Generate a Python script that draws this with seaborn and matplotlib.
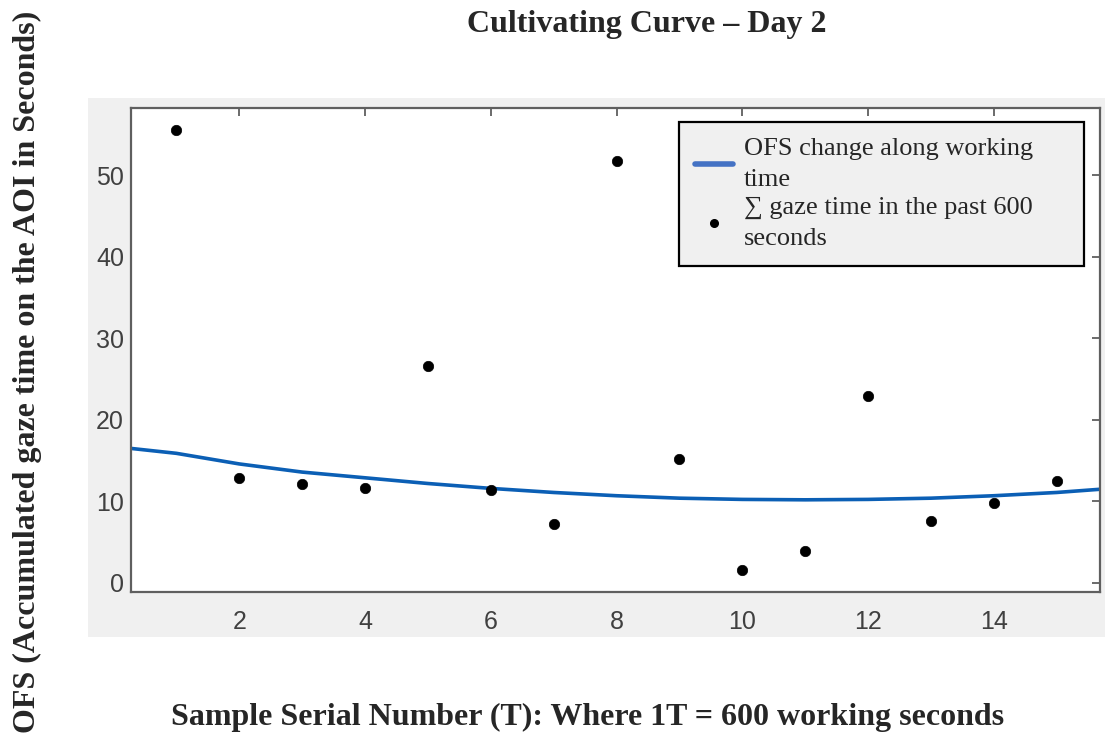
import numpy as np
import pandas as pd
import matplotlib
matplotlib.use("Agg")
import matplotlib.pyplot as plt
from matplotlib.lines import Line2D
from matplotlib.patches import Rectangle
import seaborn as sns

# sample points (T) and accumulated gaze time per sample
sample_t = [1, 2, 3, 4, 5, 6, 7, 8, 9, 10, 11, 12, 13, 14, 15]
gaze_sec = [55.5, 12.9, 12.1, 11.6, 26.6, 11.4, 7.2, 51.7, 15.2, 1.6, 3.9, 22.9, 7.6, 9.8, 12.5]

# fitted OFS curve
curve_t = [0.28, 1, 2, 3, 4, 5, 6, 7, 8, 9, 10, 11, 12, 13, 14, 15, 15.7]
curve_ofs = [16.5, 15.9, 14.6, 13.6, 12.9, 12.2, 11.6, 11.1, 10.7, 10.4, 10.25, 10.2, 10.25, 10.4, 10.7, 11.1, 11.5]

xticks = [2, 4, 6, 8, 10, 12, 14]
yticks = [0, 10, 20, 30, 40, 50]

pts = pd.DataFrame({"T": sample_t, "gaze": gaze_sec})
fit = pd.DataFrame({"T": curve_t, "OFS": curve_ofs})

sns.set_style("white")
plt.rcParams["font.family"] = ["Liberation Sans", "DejaVu Sans"]

serif = ["Liberation Serif", "DejaVu Serif"]
axis_gray = "#5f5f5f"

fig = plt.figure(figsize=(11.05, 7.35), dpi=100)

# grey figure panel behind the axes (matlab style)
fig.patches.append(Rectangle((0.0796, 0.1333), 0.9204, 0.7334, transform=fig.transFigure,
                             facecolor="#f0f0f0", edgecolor="none", zorder=0))

ax = fig.add_axes([0.1186, 0.1946, 0.877, 0.658])
ax.set_zorder(2)
ax.set_facecolor("white")

sns.lineplot(data=fit, x="T", y="OFS", color="#0b5fb5", linewidth=2.6, ax=ax, zorder=2)
sns.scatterplot(data=pts, x="T", y="gaze", color="black", s=56, edgecolor="black",
                linewidth=0.5, ax=ax, zorder=3)

ax.set_xlim(0.28, 15.69)
ax.set_ylim(-1.1, 58.2)
ax.set_xticks(xticks)
ax.set_yticks(yticks)
ax.set_xlabel("")
ax.set_ylabel("")
ax.tick_params(direction="in", length=6, width=1.3, color=axis_gray, labelcolor="#404040",
               labelsize=18, top=True, right=True)
ax.tick_params(axis="x", pad=13)
ax.tick_params(axis="y", pad=5)
for sp in ax.spines.values():
    sp.set_visible(True)
    sp.set_color(axis_gray)
    sp.set_linewidth(1.6)

handles = [
    Line2D([0], [0], color="#4472c4", linewidth=4),
    Line2D([0], [0], color="black", marker="o", linestyle="none", markersize=5.5),
]
labels = ["OFS change along working\ntime", "\u2211 gaze time in the past 600\nseconds"]
leg = ax.legend(handles, labels, loc="upper left", bbox_to_anchor=(0.5655, 0.6736, 0.418, 0.2975),
                mode="expand", borderaxespad=0, frameon=True, fancybox=False, framealpha=1,
                facecolor="#f0f0f0", edgecolor="black", handlelength=1.45,
                handletextpad=0.4, labelspacing=0.2, borderpad=0.6,
                prop={"family": serif, "size": 19})
leg.get_frame().set_linewidth(1.6)
for t in leg.get_texts():
    t.set_linespacing(1.55)

fig.text(0.5855, 0.966, "Cultivating Curve \u2013 Day 2", ha="center", va="center",
         family=serif, fontweight="bold", fontsize=23)
fig.text(0.532, 0.024, "Sample Serial Number (T): Where 1T = 600 working seconds",
         ha="center", va="center", family=serif, fontweight="bold", fontsize=23)
fig.text(0.025, 0.494, "OFS (Accumulated gaze time on the AOI in Seconds)", ha="center",
         va="center", rotation=90, family=serif, fontweight="bold", fontsize=23)

fig.savefig("out.png", dpi=100)
